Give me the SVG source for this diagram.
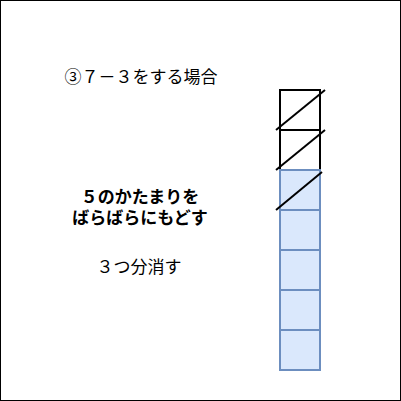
<svg xmlns="http://www.w3.org/2000/svg" width="401" height="401" viewBox="0 0 401 401">
<style>
.t{font-family:"Liberation Sans","Noto Sans CJK JP",sans-serif;font-size:17px;fill:#000;text-anchor:middle}
.b{font-weight:bold}
.w{fill:#fff;stroke:#000;stroke-width:2}
.bl{fill:#dae8fc;stroke:#6c8ebf;stroke-width:2}
.x{stroke:#000;stroke-width:2;fill:none}
</style>
<rect x="0.5" y="0.5" width="400" height="400" fill="#fff" stroke="#000"/>
<g id="title"><text class="t" x="141" y="83">③７－３をする場合</text></g>
<g id="label1"><text class="t b" x="140" y="203">５のかたまりを</text><text class="t b" x="140" y="224">ばらばらにもどす</text></g>
<g id="label2"><text class="t" x="139" y="273">３つ分消す</text></g>
<g id="cell1"><rect class="w" x="280" y="90" width="40" height="40"/></g>
<g id="cell2"><rect class="w" x="280" y="130" width="40" height="40"/></g>
<g id="cell3"><rect class="bl" x="280" y="170" width="40" height="40"/></g>
<g id="cell4"><rect class="bl" x="280" y="210" width="40" height="40"/></g>
<g id="cell5"><rect class="bl" x="280" y="250" width="40" height="40"/></g>
<g id="cell6"><rect class="bl" x="280" y="290" width="40" height="40"/></g>
<g id="cell7"><rect class="bl" x="280" y="330" width="40" height="40"/></g>
<g id="connectors">
<line class="x" x1="276" y1="130" x2="325" y2="90"/>
<line class="x" x1="276" y1="170" x2="325" y2="130"/>
<line class="x" x1="276" y1="210" x2="322" y2="172"/>
</g>
</svg>
